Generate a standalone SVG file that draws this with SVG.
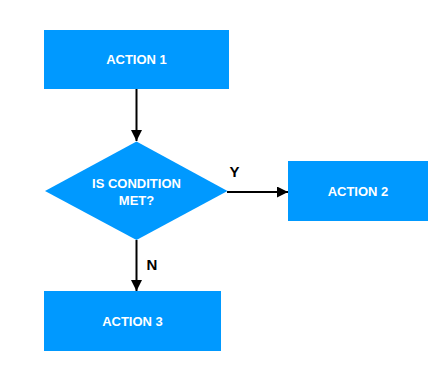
<svg xmlns="http://www.w3.org/2000/svg" width="446" height="382" viewBox="0 0 446 382">
<style>
.node{fill:#0099ff}
.lbl{font-family:"Liberation Sans",Arial,sans-serif;font-weight:bold;font-size:13px;fill:#ffffff;text-anchor:middle;dominant-baseline:central}
.edge{stroke:#000;stroke-width:2;fill:none}
.elbl{font-family:"Liberation Sans",Arial,sans-serif;font-weight:bold;font-size:15px;fill:#000;text-anchor:middle;dominant-baseline:central}
</style>
<defs>
<marker id="arr" viewBox="0 0 10 10" refX="10" refY="5" markerWidth="5.5" markerHeight="5.5" orient="auto" markerUnits="strokeWidth">
<path d="M0,0 L10,5 L0,10 z" fill="#000"/>
</marker>
</defs>
<rect width="446" height="382" fill="#fff"/>
<g id="connectors">
<line class="edge" x1="136.5" y1="89" x2="136.5" y2="141" marker-end="url(#arr)"/>
<line class="edge" x1="227" y1="192" x2="288" y2="192" marker-end="url(#arr)"/>
<line class="edge" x1="136.5" y1="240" x2="136.5" y2="291" marker-end="url(#arr)"/>
<text class="elbl" x="234.5" y="171.5">Y</text>
<text class="elbl" x="152" y="264">N</text>
</g>
<g id="action1">
<rect class="node" x="44" y="30" width="185" height="59"/>
<text class="lbl" x="136.5" y="59.5">ACTION 1</text>
</g>
<g id="decision">
<polygon class="node" points="136.5,141.5 227.5,191 136.5,240 45,191"/>
<text class="lbl" x="136.5" y="183.5">IS CONDITION</text>
<text class="lbl" x="136.5" y="200">MET?</text>
</g>
<g id="action2">
<rect class="node" x="288" y="161" width="140" height="60"/>
<text class="lbl" x="358" y="191.5">ACTION 2</text>
</g>
<g id="action3">
<rect class="node" x="44" y="291" width="177" height="60"/>
<text class="lbl" x="132.5" y="321">ACTION 3</text>
</g>
</svg>
